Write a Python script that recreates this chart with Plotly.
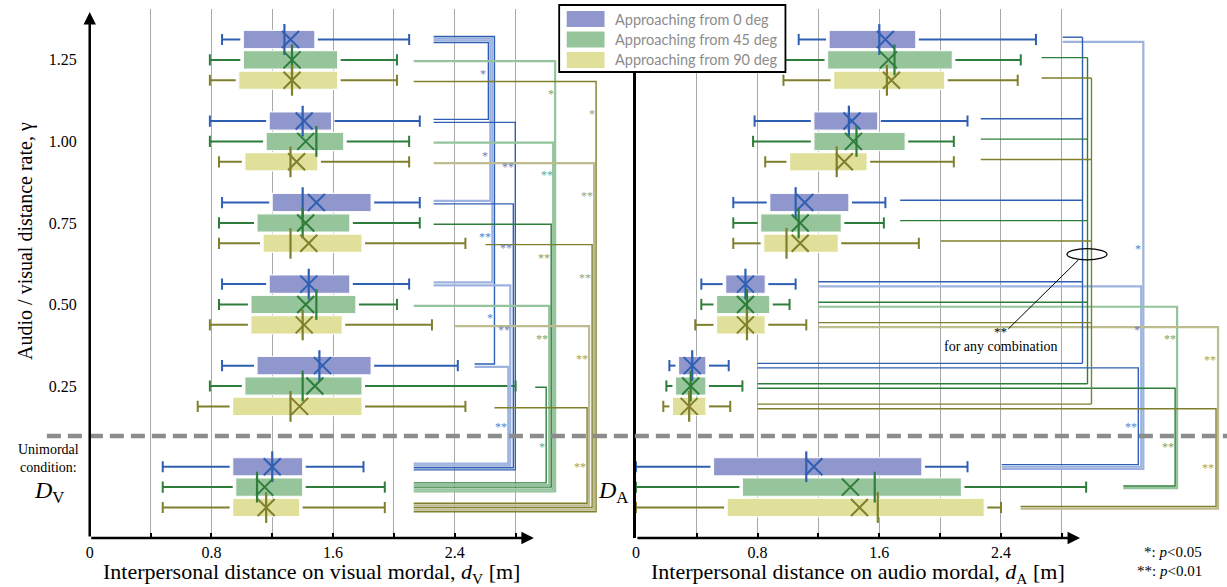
import plotly.graph_objects as go

W, H = 1227, 587

# ---------------- data ----------------
gamma_ticks = [1.25, 1.00, 0.75, 0.50, 0.25]
gamma_ticktext = ['1.25', '1.00', '0.75', '0.50', '0.25']
unimodal_pos = -0.06
group_pos = gamma_ticks + [unimodal_pos]

series_names = ['Approaching from 0 deg', 'Approaching from 45 deg', 'Approaching from 90 deg']

x_tickvals = [0, 0.4, 0.8, 1.2, 1.6, 2.0, 2.4, 2.8]
x_ticktext = ['0', '', '0.8', '', '1.6', '', '2.4', '']

# Visual modal d_V [m]; rows: 0 / 45 / 90 deg ; cols: gamma 1.25, 1.00, 0.75, 0.50, 0.25, unimodal
vis_lo = [[0.87, 0.79, 0.87, 0.87, 0.87, 0.48],
          [0.79, 0.79, 0.85, 0.85, 0.79, 0.48],
          [0.79, 0.85, 0.85, 0.79, 0.71, 0.48]]
vis_q1 = [[1.01, 1.18, 1.20, 1.18, 1.10, 0.94],
          [1.01, 1.16, 1.10, 1.06, 1.02, 0.96],
          [0.98, 1.02, 1.14, 1.06, 0.94, 0.94]]
vis_med = [[1.28, 1.40, 1.40, 1.44, 1.51, 1.20],
           [1.33, 1.49, 1.40, 1.49, 1.40, 1.10],
           [1.33, 1.32, 1.32, 1.40, 1.32, 1.16]]
vis_q3 = [[1.48, 1.59, 1.85, 1.71, 1.85, 1.40],
          [1.63, 1.67, 1.71, 1.75, 1.79, 1.40],
          [1.63, 1.50, 1.79, 1.66, 1.79, 1.38]]
vis_hi = [[2.10, 2.17, 2.17, 2.10, 2.42, 1.80],
          [2.02, 2.10, 2.17, 2.02, 2.80, 1.94],
          [2.02, 2.10, 2.47, 2.25, 2.47, 1.94]]
vis_mean = [[1.32, 1.41, 1.49, 1.44, 1.53, 1.20],
            [1.33, 1.42, 1.42, 1.42, 1.48, 1.15],
            [1.33, 1.36, 1.44, 1.41, 1.38, 1.16]]

# Audio modal d_A [m]
aud_lo = [[1.07, 0.78, 0.64, 0.43, 0.22, 0.00],
          [0.98, 0.77, 0.64, 0.43, 0.20, 0.00],
          [0.97, 0.85, 0.64, 0.39, 0.18, 0.00]]
aud_q1 = [[1.27, 1.17, 0.88, 0.59, 0.28, 0.51],
          [1.26, 1.17, 0.82, 0.53, 0.26, 0.70],
          [1.30, 1.01, 0.84, 0.53, 0.24, 0.60]]
aud_med = [[1.60, 1.40, 1.05, 0.72, 0.37, 1.12],
           [1.70, 1.45, 1.07, 0.73, 0.36, 1.57],
           [1.65, 1.32, 0.99, 0.73, 0.35, 1.59]]
aud_q3 = [[1.84, 1.59, 1.40, 0.85, 0.46, 1.88],
          [2.08, 1.77, 1.35, 0.88, 0.46, 2.14],
          [2.03, 1.52, 1.33, 0.85, 0.46, 2.29]]
aud_hi = [[2.63, 2.18, 1.64, 1.05, 0.61, 2.18],
          [2.53, 2.09, 1.63, 1.01, 0.70, 2.96],
          [2.51, 2.09, 1.86, 1.12, 0.62, 2.40]]
aud_mean = [[1.64, 1.42, 1.11, 0.72, 0.37, 1.17],
            [1.66, 1.43, 1.08, 0.72, 0.36, 1.41],
            [1.68, 1.37, 1.08, 0.72, 0.35, 1.47]]

# ---------------- styles ----------------
FILL = ['#8f97cd', '#96c59c', '#e0e09b']
DARK = ['#2f5fb3', '#2e7d3a', '#7f7f2e']
LIGHT = ['#9db2de', '#93c49c', '#bcbc8e']
STAR = ['#5b80c8', '#6aa874', '#a3a35e']
SERIF = 'Liberation Serif'
series_offset = [0.0625, 0.0, -0.0625]
BOX_W = 0.056
GAP = 0.02
PX = 152.6           # px per metre
L0, R0 = 86, 634     # pixel of x=0 for each panel
YR = [-0.216, 1.406]
YD = [1 - 538 / H, 1 - 9 / H]


def rowy(s, g):
    return group_pos[g] + series_offset[s]


fig = go.Figure()


def add_boxes(xa, ya, lo, q1, med, q3, hi, mean):
    for s in range(3):
        ys = [rowy(s, g) for g in range(6)]
        fig.add_trace(go.Bar(orientation='h', y=ys, base=q1[s],
                             x=[q3[s][g] - q1[s][g] for g in range(6)],
                             width=BOX_W, xaxis=xa, yaxis=ya,
                             marker=dict(color=FILL[s], line=dict(color='rgba(255,255,255,0.9)', width=1.2)),
                             showlegend=False, hoverinfo='skip', name=series_names[s]))
        wx, wy = [], []
        for g in range(6):
            wx += [lo[s][g], q1[s][g] - GAP, None, q3[s][g] + GAP, hi[s][g], None]
            wy += [ys[g], ys[g], None, ys[g], ys[g], None]
        fig.add_trace(go.Scatter(x=wx, y=wy, mode='lines', line=dict(color=DARK[s], width=2),
                                 xaxis=xa, yaxis=ya, showlegend=False, hoverinfo='skip'))
        fig.add_trace(go.Scatter(x=lo[s] + hi[s], y=ys + ys, mode='markers',
                                 marker=dict(symbol='line-ns', size=8, line=dict(color=DARK[s], width=2)),
                                 xaxis=xa, yaxis=ya, showlegend=False, hoverinfo='skip'))
        fig.add_trace(go.Scatter(x=med[s], y=ys, mode='markers',
                                 marker=dict(symbol='line-ns', size=22, line=dict(color=DARK[s], width=2.2)),
                                 xaxis=xa, yaxis=ya, showlegend=False, hoverinfo='skip'))
        fig.add_trace(go.Scatter(x=mean[s], y=ys, mode='markers',
                                 marker=dict(symbol='x-thin', size=17, line=dict(color=DARK[s], width=2)),
                                 xaxis=xa, yaxis=ya, showlegend=False, hoverinfo='skip'))


add_boxes('x', 'y', vis_lo, vis_q1, vis_med, vis_q3, vis_hi, vis_mean)
add_boxes('x2', 'y2', aud_lo, aud_q1, aud_med, aud_q3, aud_hi, aud_mean)

# ---------------- significance brackets ----------------
def seg(xa, ya, xs, ys, s, shade):
    fig.add_trace(go.Scatter(x=xs, y=ys, mode='lines',
                             line=dict(color=DARK[s] if shade == 'd' else LIGHT[s],
                                       width=1.4 if shade == 'd' else 2.2),
                             xaxis=xa, yaxis=ya, showlegend=False, hoverinfo='skip'))


left_start = [[2.261, 2.261, 2.261, 2.261, 2.530, 2.130],
              [2.130, 2.261, 2.261, 2.130, 2.929, 2.130],
              [2.130, 2.261, 2.602, 2.398, 2.661, 2.130]]
right_start = [[2.805, 2.267, 1.737, 1.199, 0.799, 2.405],
               [2.667, 2.267, 1.737, 1.199, 0.799, 3.204],
               [2.667, 2.267, 2.005, 1.199, 0.799, 2.529]]

# gamma=1.25 vs others (visual, 0 deg)
left_top_pairs = [(1, 2.621, 'd', -0.009), (2, 2.634, 'l', -0.003),
                  (3, 2.647, 'l', 0.003), (4, 2.661, 'd', 0.009)]
for g_to, xv, shade, off in left_top_pairs:
    y1 = rowy(0, 0) + off
    y2 = rowy(0, g_to) + 0.005
    seg('x', 'y', [left_start[0][0], xv, xv, left_start[0][g_to]], [y1, y1, y2, y2], 0, shade)

left_uni = {0: [(1, 2.798, 'd'), (2, 2.785, 'd'), (3, 2.765, 'l'), (4, 2.752, 'l')],
            1: [(0, 3.060, 'l'), (1, 3.047, 'l'), (2, 3.034, 'd'), (3, 3.021, 'l'), (4, 3.001, 'd')],
            2: [(0, 3.329, 'd'), (1, 3.316, 'l'), (2, 3.303, 'd'), (3, 3.283, 'l'), (4, 3.270, 'd')]}
right_uni = {0: [(0, 3.336, 'l'), (3, 3.322, 'l'), (4, 3.303, 'd')],
             1: [(3, 3.558, 'l'), (4, 3.545, 'd')],
             2: [(3, 3.827, 'l'), (4, 3.814, 'd')]}


def uni_brackets(xa, ya, spec, start, from_off):
    for s, lst in spec.items():
        srt = sorted(lst, key=lambda t: t[1])
        n = len(srt)
        for i, (g, xv, shade) in enumerate(srt):
            y1 = rowy(s, g) + from_off
            y2 = rowy(s, 5) + ((n - 1) / 2 - i) * 0.0065
            seg(xa, ya, [start[s][g], xv, xv, start[s][5]], [y1, y1, y2, y2], s, shade)


uni_brackets('x', 'y', left_uni, left_start, -0.004)
uni_brackets('x2', 'y2', right_uni, right_start, -0.007)

# audio: every combination among gamma conditions
right_all_x = [2.936, 2.969, 2.995]
for s in range(3):
    xv = right_all_x[s]
    for g in range(5):
        y = rowy(s, g) + 0.007
        seg('x2', 'y2', [right_start[s][g], xv], [y, y], s, 'd')
    seg('x2', 'y2', [xv, xv], [rowy(s, 0) + 0.007, rowy(s, 4) + 0.007], s, 'd')

stars = [
    ('x', 0, 2.588, 1.215, '*'), ('x', 0, 2.602, 0.966, '*'), ('x', 0, 2.602, 0.717, '**'),
    ('x', 0, 2.634, 0.468, '*'), ('x', 0, 2.752, 0.932, '**'), ('x', 0, 2.739, 0.683, '**'),
    ('x', 0, 2.726, 0.431, '**'), ('x', 0, 2.706, 0.133, '**'),
    ('x', 1, 3.034, 1.154, '*'), ('x', 1, 3.008, 0.905, '**'), ('x', 1, 2.988, 0.653, '**'),
    ('x', 1, 2.975, 0.404, '**'), ('x', 1, 2.975, 0.072, '*'),
    ('x', 2, 3.303, 1.092, '*'), ('x', 2, 3.270, 0.843, '**'), ('x', 2, 3.257, 0.591, '**'),
    ('x', 2, 3.237, 0.342, '**'), ('x', 2, 3.224, 0.010, '**'),
    ('x2', 0, 3.303, 0.680, '*'), ('x2', 0, 3.296, 0.431, '*'), ('x2', 0, 3.257, 0.133, '**'),
    ('x2', 1, 3.512, 0.404, '**'), ('x2', 1, 3.499, 0.072, '**'),
    ('x2', 2, 3.775, 0.339, '**'), ('x2', 2, 3.761, 0.007, '**'),
]

annotations = []
for xa, s, x, y, t in stars:
    annotations.append(dict(x=x, y=y, xref=xa, yref='y' if xa == 'x' else 'y2', text=t,
                            showarrow=False, yshift=-3, xanchor='center', yanchor='middle',
                            font=dict(family=SERIF, size=12, color=STAR[s])))

# axis arrows
for xa, ya in [('x', 'y'), ('x2', 'y2')]:
    annotations.append(dict(x=2.92, y=YR[0], ax=0, ay=YR[0], xref=xa, yref=ya, axref=xa, ayref=ya,
                            text='', showarrow=True, arrowhead=2, arrowsize=1, arrowwidth=2.5,
                            arrowcolor='black'))
annotations.append(dict(x=0, y=1.397, ax=0, ay=YR[0], xref='x', yref='y', axref='x', ayref='y',
                        text='', showarrow=True, arrowhead=2, arrowsize=1, arrowwidth=2.5,
                        arrowcolor='black'))


def ptext(xpx, ypx, text, size, **kw):
    d = dict(x=xpx / W, y=1 - ypx / H, xref='paper', yref='paper', showarrow=False,
             xanchor='center', yanchor='middle', text=text,
             font=dict(family=kw.pop('family', SERIF), size=size, color=kw.pop('color', 'black')))
    d.update(kw)
    return d


annotations += [
    ptext(309, 573, 'Interpersonal distance on visual mordal, <i>d</i><sub>V</sub> [m]', 22),
    ptext(857, 573, 'Interpersonal distance on audio mordal, <i>d</i><sub>A</sub> [m]', 22),
    ptext(21, 241, 'Audio / visual distance rate, γ', 20, textangle=-90),
    ptext(45, 458, 'Unimordal<br>condition:', 14),
    ptext(45, 492, '<i>D</i><sub>V</sub>', 24),
    ptext(611, 492, '<i>D</i><sub>A</sub>', 24),
    ptext(1204, 552, '*: <i>p</i>&lt;0.05', 15, xanchor='right'),
    ptext(1204, 571, '**: <i>p</i>&lt;0.01', 15, xanchor='right'),
    dict(x=2.398, y=0.418, xref='x2', yref='y2', showarrow=False, text='**',
         xanchor='center', yanchor='middle', font=dict(family=SERIF, size=13, color='black')),
    dict(x=2.403, y=0.372, xref='x2', yref='y2', showarrow=False, text='for any combination',
         xanchor='center', yanchor='middle', font=dict(family=SERIF, size=14, color='black')),
]

shapes = [
    dict(type='line', xref='paper', yref='y', x0=43 / W, x1=1, y0=0.097, y1=0.097,
         line=dict(color='#8c8c8c', width=4.5, dash='14px,7px')),
    dict(type='circle', xref='x2', yref='y2', x0=2.834, x1=3.097, y0=0.637, y1=0.671,
         line=dict(color='black', width=1.2)),
    dict(type='line', xref='x2', yref='y2', x0=2.910, y0=0.637, x1=2.448, y1=0.425,
         line=dict(color='black', width=1)),
    # legend box
    dict(type='rect', xref='paper', yref='paper', x0=557 / W, x1=784 / W, y0=1 - 72 / H, y1=1 - 5 / H,
         line=dict(color='black', width=1.8), fillcolor='white', layer='above'),
]
leg_y = [19, 39.5, 60]
for s in range(3):
    shapes.append(dict(type='rect', xref='paper', yref='paper', x0=564 / W, x1=603 / W,
                       y0=1 - (leg_y[s] + 8.5) / H, y1=1 - (leg_y[s] - 8.5) / H,
                       line=dict(color='white', width=1), fillcolor=FILL[s], layer='above'))
    annotations.append(ptext(611, leg_y[s], series_names[s], 14.5, xanchor='left',
                             family='Lato', color='#8c8c8c'))

xcommon = dict(tickvals=x_tickvals, ticktext=x_ticktext, showgrid=True, gridcolor='#a9a9a9',
               gridwidth=1, ticks='inside', ticklen=5, tickwidth=1.5, tickcolor='black',
               showline=False, zeroline=False, ticklabelstandoff=3,
               tickfont=dict(family=SERIF, size=16, color='black'))

fig.update_layout(
    width=W, height=H, autosize=False, margin=dict(l=0, r=0, t=0, b=0),
    plot_bgcolor='white', paper_bgcolor='white', barmode='overlay', showlegend=False,
    xaxis=dict(domain=[L0 / W, 620 / W], range=[0, (620 - L0) / PX], anchor='y', **xcommon),
    xaxis2=dict(domain=[R0 / W, 1], range=[0, (W - R0) / PX], anchor='y2', **xcommon),
    yaxis=dict(domain=YD, range=YR, tickvals=gamma_ticks, ticktext=gamma_ticktext, showgrid=False,
               zeroline=False, showline=False, ticks='', ticklabelstandoff=12, anchor='x',
               tickfont=dict(family=SERIF, size=16, color='black')),
    yaxis2=dict(domain=YD, range=YR, showgrid=False, zeroline=False, showticklabels=False,
                showline=True, linewidth=2.5, linecolor='black', anchor='x2', matches='y'),
    annotations=annotations, shapes=shapes,
)

fig.write_html('out.html')
